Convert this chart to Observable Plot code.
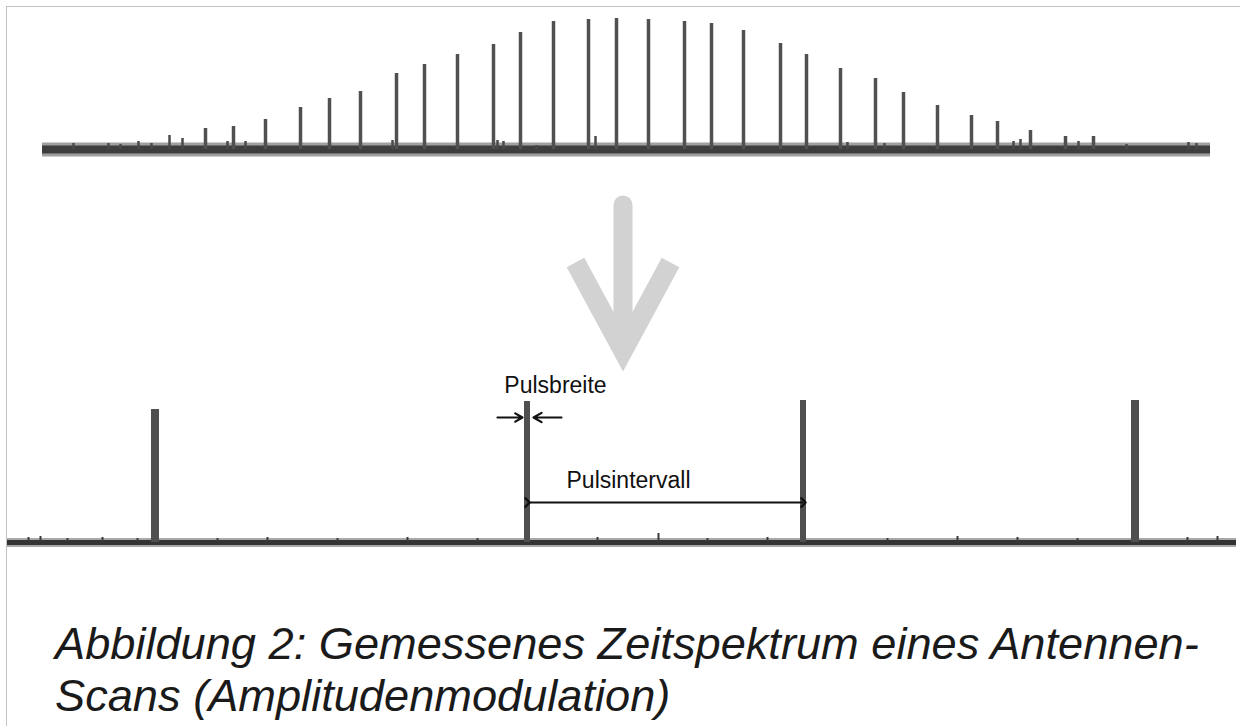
<!DOCTYPE html>
<html><head><meta charset="utf-8">
<script src="https://cdn.jsdelivr.net/npm/d3@7"></script>
<script src="https://cdn.jsdelivr.net/npm/@observablehq/plot@0.6"></script>
<style>
html,body{margin:0;padding:0;background:#fff;}
#wrap{position:relative;width:1240px;height:726px;overflow:hidden;font-family:"Liberation Sans",Arial,sans-serif;background:#fff;}
#frame{position:absolute;left:6px;top:6px;width:1250px;height:740px;border-left:1.5px solid #c4c4c4;border-top:1.5px solid #c4c4c4;}
.layer{position:absolute;left:0;}
#caption{position:absolute;left:55px;top:618px;font-style:italic;font-size:45.2px;line-height:52px;color:#1a1a1a;white-space:nowrap;}
</style></head><body>
<div id="wrap">
<div id="frame"></div>
<div id="topPanel" class="layer" style="top:0px"></div>
<div id="midPanel" class="layer" style="top:180px"></div>
<div id="botPanel" class="layer" style="top:360px"></div>
<div id="caption">Abbildung 2: Gemessenes Zeitspektrum eines Antennen-<br>Scans (Amplitudenmodulation)</div>
</div>
<script>
// ---- Data: antenna scan (top trace), sample positions and amplitudes
const scanTime = [163,191,223,258,287,318,354,382,415,451,478,511,546,574,606,642,669,701,738,764,798,833,861,895,929,955,988,1023,1051];
const scanAmp  = [21,23,30,42,51,58,76,85,95,105,117,128,130,131,130,128,126,119,106,95,81,71,57,44,34,28,19,13,13];
// small noise peaks on the top trace
const noiseTime = [31,66,78,96,109,127,140,185,203,350,455,461,494,553,805,842,971,978,1036,1084,1146,1154];
const noiseAmp  = [6,6,5,8,6,14,11,8,8,9,9,8,4,13,7,6,8,10,8,5,7,6];

// ---- Data: zoomed time spectrum (bottom trace), pulses
const pulseStart = [144,517,793,1124];
const pulseEnd   = [152,523,799,1132];
const pulseAmp   = [133,141,142,142];
// small noise peaks on the bottom trace
const bNoiseTime = [21,33,60,95,130,210,260,330,400,470,590,651,700,760,880,950,1010,1070,1180,1210];
const bNoiseAmp  = [5,6,4,5,4,4,5,4,5,4,5,9,4,5,4,6,5,4,5,6];

// ---- Annotations (bottom trace units)
const widthLabel = "Pulsbreite";
const intervalLabel = "Pulsintervall";
const widthArrowFrom = [490, 554];
const widthArrowTo   = [515, 526];
const widthArrowAmp  = 125;
const intervalFrom = 520, intervalTo = 796, intervalAmp = 40;

// ---- Decorative transition arrow (mid panel units)
const arrowShaftX = [622.5, 622.5];
const arrowShaftY = [24.5, 160];
const arrowHeadX  = [575, 622.5, 670];
const arrowHeadY  = [82, 170, 82];

const scan = scanTime.map((t,i)=>({t, amp: scanAmp[i]}));
const noise = noiseTime.map((t,i)=>({t, amp: noiseAmp[i]}));
const pulses = pulseStart.map((s,i)=>({start:s, end:pulseEnd[i], amp:pulseAmp[i]}));
const bNoise = bNoiseTime.map((t,i)=>({t, amp: bNoiseAmp[i]}));

const fontStyle = {fontFamily:'"Liberation Sans", Arial, sans-serif', background:"transparent", overflow:"visible"};

// Top plot
const topChart = Plot.plot({
  width:1240, height:200, marginLeft:42, marginRight:30, marginTop:14, marginBottom:51,
  style: fontStyle,
  x:{domain:[0,1168], axis:null},
  y:{domain:[0,135], axis:null},
  marks:[
    Plot.ruleY([0], {stroke:"#a0a0a0", strokeWidth:14}),
    Plot.ruleY([0], {stroke:"#3e3e3e", strokeWidth:8}),
    Plot.ruleX(noise, {x:"t", y1:0, y2:"amp", stroke:"#4a4a4a", strokeWidth:2.5}),
    Plot.ruleX(scan, {x:"t", y1:0, y2:"amp", stroke:"#505050", strokeWidth:3.5})
  ]
});
document.getElementById("topPanel").appendChild(topChart);

// Mid plot: transition arrow
const shaft = arrowShaftX.map((x,i)=>({x, y: arrowShaftY[i]}));
const head = arrowHeadX.map((x,i)=>({x, y: arrowHeadY[i]}));
const midChart = Plot.plot({
  width:1240, height:200, margin:0,
  style: fontStyle,
  x:{domain:[0,1240], range:[0,1240], axis:null},
  y:{domain:[0,200], range:[0,200], axis:null},
  marks:[
    Plot.line(shaft, {x:"x", y:"y", stroke:"#d2d2d2", strokeWidth:19, strokeLinecap:"round"}),
    Plot.line(head, {x:"x", y:"y", stroke:"#d2d2d2", strokeWidth:20, strokeLinejoin:"miter", strokeMiterlimit:10, strokeLinecap:"butt", curve:"linear"})
  ]
});
document.getElementById("midPanel").appendChild(midChart);

// Bottom plot
const botChart = Plot.plot({
  width:1240, height:200, marginLeft:7, marginRight:4, marginTop:22, marginBottom:18,
  style: fontStyle,
  x:{domain:[0,1229], axis:null},
  y:{domain:[0,160], axis:null},
  marks:[
    Plot.ruleY([0], {stroke:"#a8a8a8", strokeWidth:9}),
    Plot.ruleY([0], {stroke:"#333333", strokeWidth:5}),
    Plot.ruleX(bNoise, {x:"t", y1:0, y2:"amp", stroke:"#3a3a3a", strokeWidth:2}),
    Plot.rectY(pulses, {x1:"start", x2:"end", y1:0, y2:"amp", fill:"#4f4f4f"}),
    Plot.arrow([0,1], {x1:i=>widthArrowFrom[i], x2:i=>widthArrowTo[i], y1:widthArrowAmp, y2:widthArrowAmp, stroke:"#111", strokeWidth:2.2, headLength:8}),
    Plot.link([0], {x1:intervalFrom, x2:intervalTo, y1:intervalAmp, y2:intervalAmp, stroke:"#111", strokeWidth:2.2, marker:"arrow"}),
    Plot.text([widthLabel], {x:548, y:150, text:d=>d, fontSize:23, fill:"#111", lineAnchor:"bottom"}),
    Plot.text([intervalLabel], {x:621, y:55, text:d=>d, fontSize:23, fill:"#111", lineAnchor:"bottom"})
  ]
});
document.getElementById("botPanel").appendChild(botChart);
</script>
</body></html>
